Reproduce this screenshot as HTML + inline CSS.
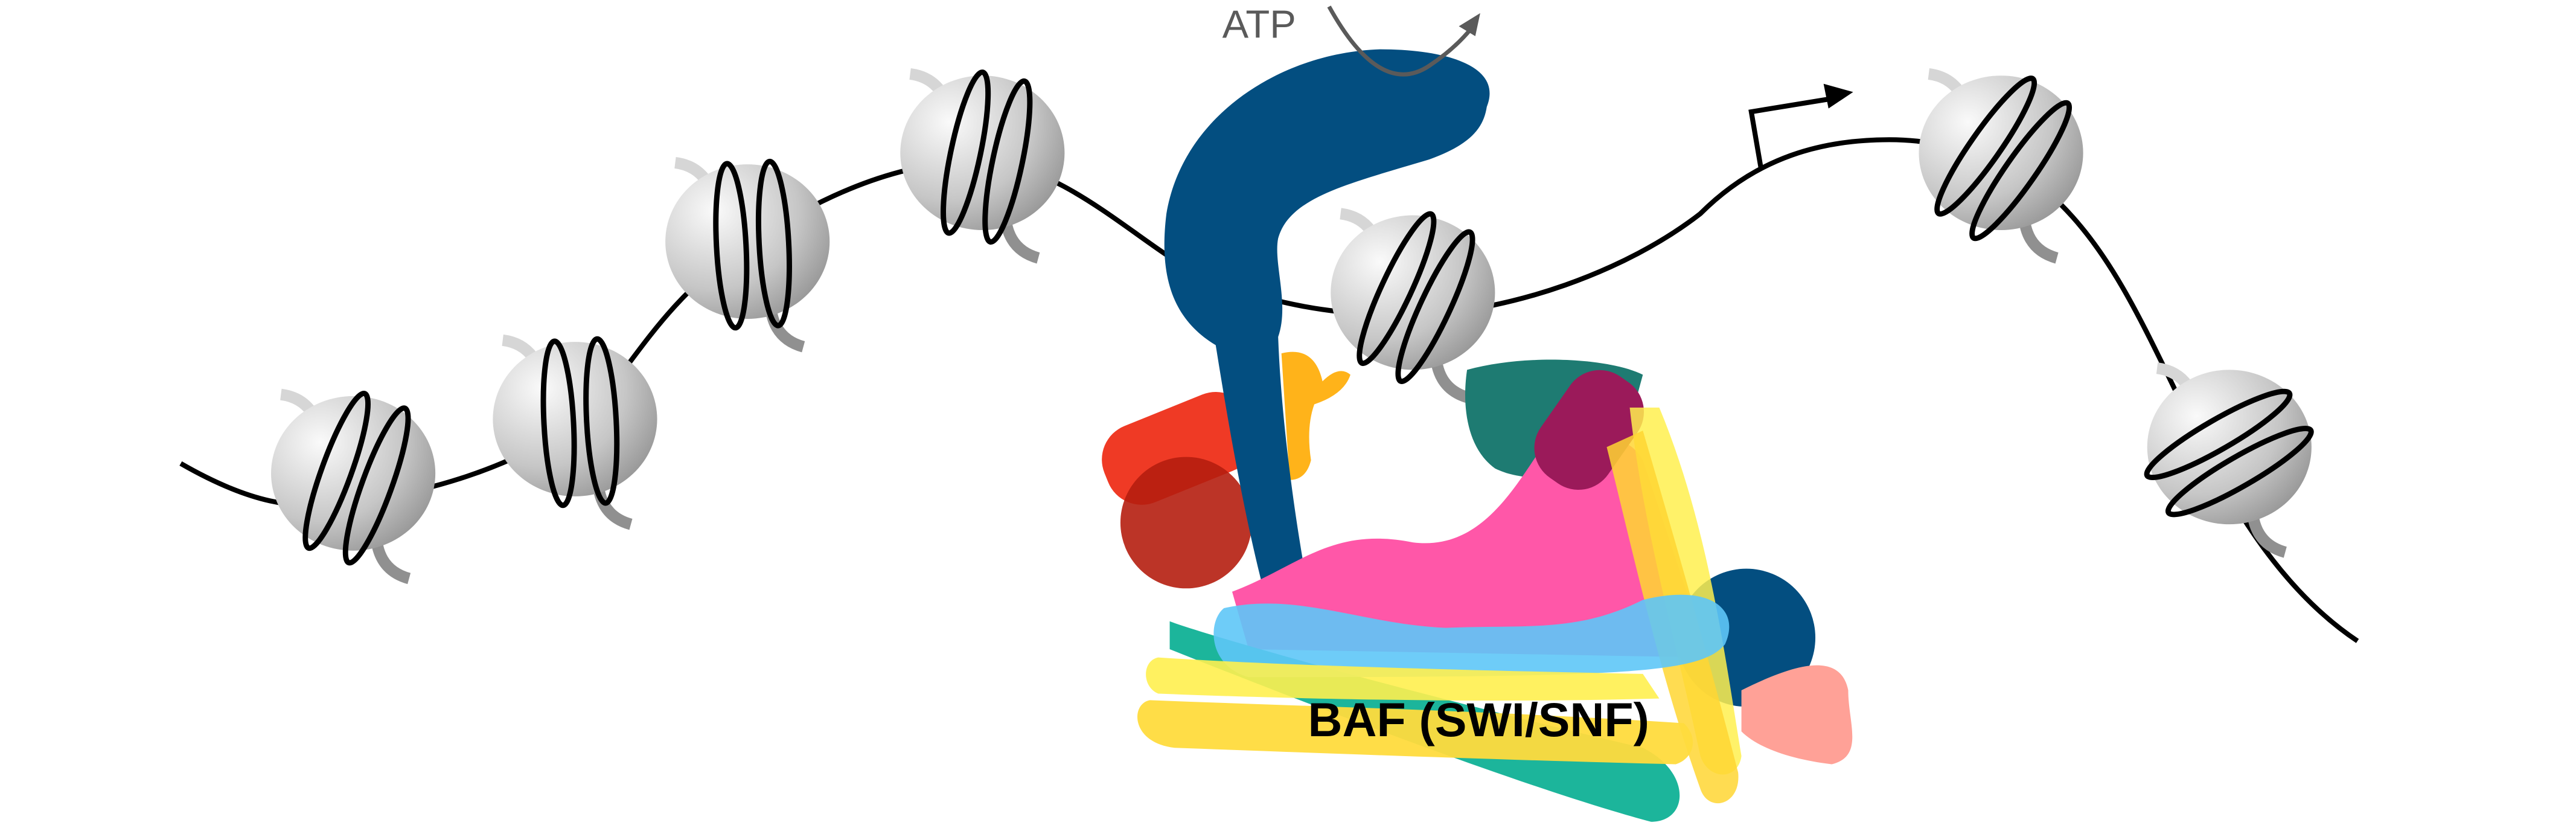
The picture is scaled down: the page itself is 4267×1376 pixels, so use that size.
<!DOCTYPE html>
<html><head><meta charset="utf-8"><style>html,body{margin:0;padding:0;background:#fff;}svg{display:block}</style></head>
<body>
<svg width="4267" height="1376" viewBox="0 0 1568 505.6" preserveAspectRatio="none" xmlns="http://www.w3.org/2000/svg">
<defs>
<radialGradient id="g" cx="0.3" cy="0.3" r="0.85">
<stop offset="0" stop-color="#fafafa"/><stop offset="0.6" stop-color="#c6c6c6"/><stop offset="1" stop-color="#8e8e8e"/></radialGradient>
<g id="ball">
<path d="M-44,-48 Q-20,-45 -18,-12" fill="none" stroke="#d6d6d6" stroke-width="7"/>
<path d="M14,30 Q12,58 34,64" fill="none" stroke="#909090" stroke-width="7"/>
<ellipse cx="0" cy="0" rx="50" ry="47" fill="url(#g)"/>
</g>
<g id="loops">
<ellipse cx="-10" cy="2" rx="9" ry="50" fill="none" stroke="#000" stroke-width="3.3"/>
<ellipse cx="16" cy="2" rx="9" ry="50" fill="none" stroke="#000" stroke-width="3.3"/>
</g>
</defs>
<path d="M110,282 C150,305 180,312 215,305 C260,300 310,285 350,258 C380,235 395,190 452,150 C500,120 540,100 597,97 C640,100 680,135 710,155 C740,175 790,192 858,192 C920,190 990,165 1035,130 C1070,95 1110,85 1150,85 C1190,85 1230,100 1255,125 C1290,160 1310,210 1340,270 C1360,310 1390,360 1435,390" fill="none" stroke="#000" stroke-width="3"/>
<path d="M1072,103 L1066,68 L1115,60" fill="none" stroke="#000" stroke-width="3"/>
<path d="M1128,56 L1110,51 L1113,66 Z" fill="#000"/>
<g transform="translate(215,288)"><use href="#ball"/><use href="#loops" transform="rotate(20)"/></g>
<g transform="translate(350,255)"><use href="#ball"/><use href="#loops" transform="rotate(-3)"/></g>
<g transform="translate(455,147)"><use href="#ball"/><use href="#loops" transform="rotate(-3)"/></g>
<g transform="translate(598,93)"><use href="#ball"/><use href="#loops" transform="rotate(12)"/></g>
<g transform="translate(1218,93)"><use href="#ball"/><use href="#loops" transform="rotate(35)"/></g>
<g transform="translate(1357,272)"><use href="#ball"/><use href="#loops" transform="rotate(60)"/></g>
<g transform="translate(860,178)"><use href="#ball"/><use href="#loops" transform="rotate(25)"/></g>
<path d="M780,215 Q800,210 805,232 Q815,222 822,228 Q818,240 800,246 Q795,260 798,280 Q795,292 785,292 Z" fill="#ffb31a"/>
<rect x="670" y="248" width="95" height="50" rx="22" fill="#ef3a25" transform="rotate(-22 717 273)"/>
<circle cx="722" cy="318" r="40" fill="#b51e10" opacity="0.9"/>
<path d="M905,65 C915,40 880,30 840,30 C780,32 720,70 710,130 C705,170 715,195 740,210 C748,260 760,330 775,380 L800,378 C790,330 780,260 778,205 C785,185 775,160 778,145 C785,120 820,112 870,97 C895,88 903,78 905,65 Z" fill="#034e80"/>
<path d="M893,225 C930,215 980,218 1000,228 L985,283 C960,290 930,295 910,285 C892,272 890,245 893,225 Z" fill="#1e7b72"/>
<path d="M750,360 C790,345 810,320 860,330 C900,335 920,300 940,270 C950,260 990,260 1000,280 L1040,400 L760,395 Z" fill="#ff57a8"/>
<circle cx="1063" cy="388" r="42" fill="#034e80"/>
<path d="M1060,420 C1090,405 1120,395 1125,420 C1125,440 1135,460 1115,465 C1090,462 1070,455 1060,445 Z" fill="#ffa197"/>
<rect x="930" y="237" width="75" height="50" rx="22" fill="#9b1a5a" transform="rotate(-55 967 262)"/>
<path d="M992,248 L1010,248 C1040,320 1050,400 1060,460 C1058,475 1040,475 1035,460 C1020,390 1000,320 992,248 Z" fill="#fff04f" opacity="0.85"/>
<path d="M978,272 L1000,262 C1020,330 1040,400 1058,470 C1060,490 1040,495 1035,480 C1010,410 995,340 978,272 Z" fill="#ffd633" opacity="0.85"/>
<path d="M712,378 C730,385 850,420 1000,455 C1030,470 1028,500 1005,500 C930,480 800,430 712,395 Z" fill="#1cb59b"/>
<path d="M745,370 C790,360 830,380 880,382 C930,380 960,385 1000,365 C1040,355 1060,370 1050,392 C1035,410 990,412 760,412 C735,405 735,378 745,370 Z" fill="#5ec6f7" opacity="0.9"/>
<path d="M705,400 C780,405 900,408 1000,410 L1010,425 C900,428 780,425 705,422 C695,418 695,402 705,400 Z" fill="#fff04f" opacity="0.9"/>
<path d="M700,426 C800,430 900,432 1025,440 C1035,450 1030,462 1020,465 C900,462 800,458 715,455 C688,452 688,428 700,426 Z" fill="#ffdb3d" opacity="0.95"/>
<text x="900" y="448" text-anchor="middle" font-family="Liberation Sans, sans-serif" font-weight="bold" font-size="29" fill="#000">BAF (SWI/SNF)</text>
<text x="744" y="23" font-family="Liberation Sans, sans-serif" font-size="24" fill="#5a5a5a">ATP</text>
<path d="M809,4 Q840,60 870,40 Q885,30 895,18" fill="none" stroke="#5a5a5a" stroke-width="2.5"/>
<path d="M901,8 L888,16 L898,22 Z" fill="#5a5a5a"/>
</svg>
</body></html>
